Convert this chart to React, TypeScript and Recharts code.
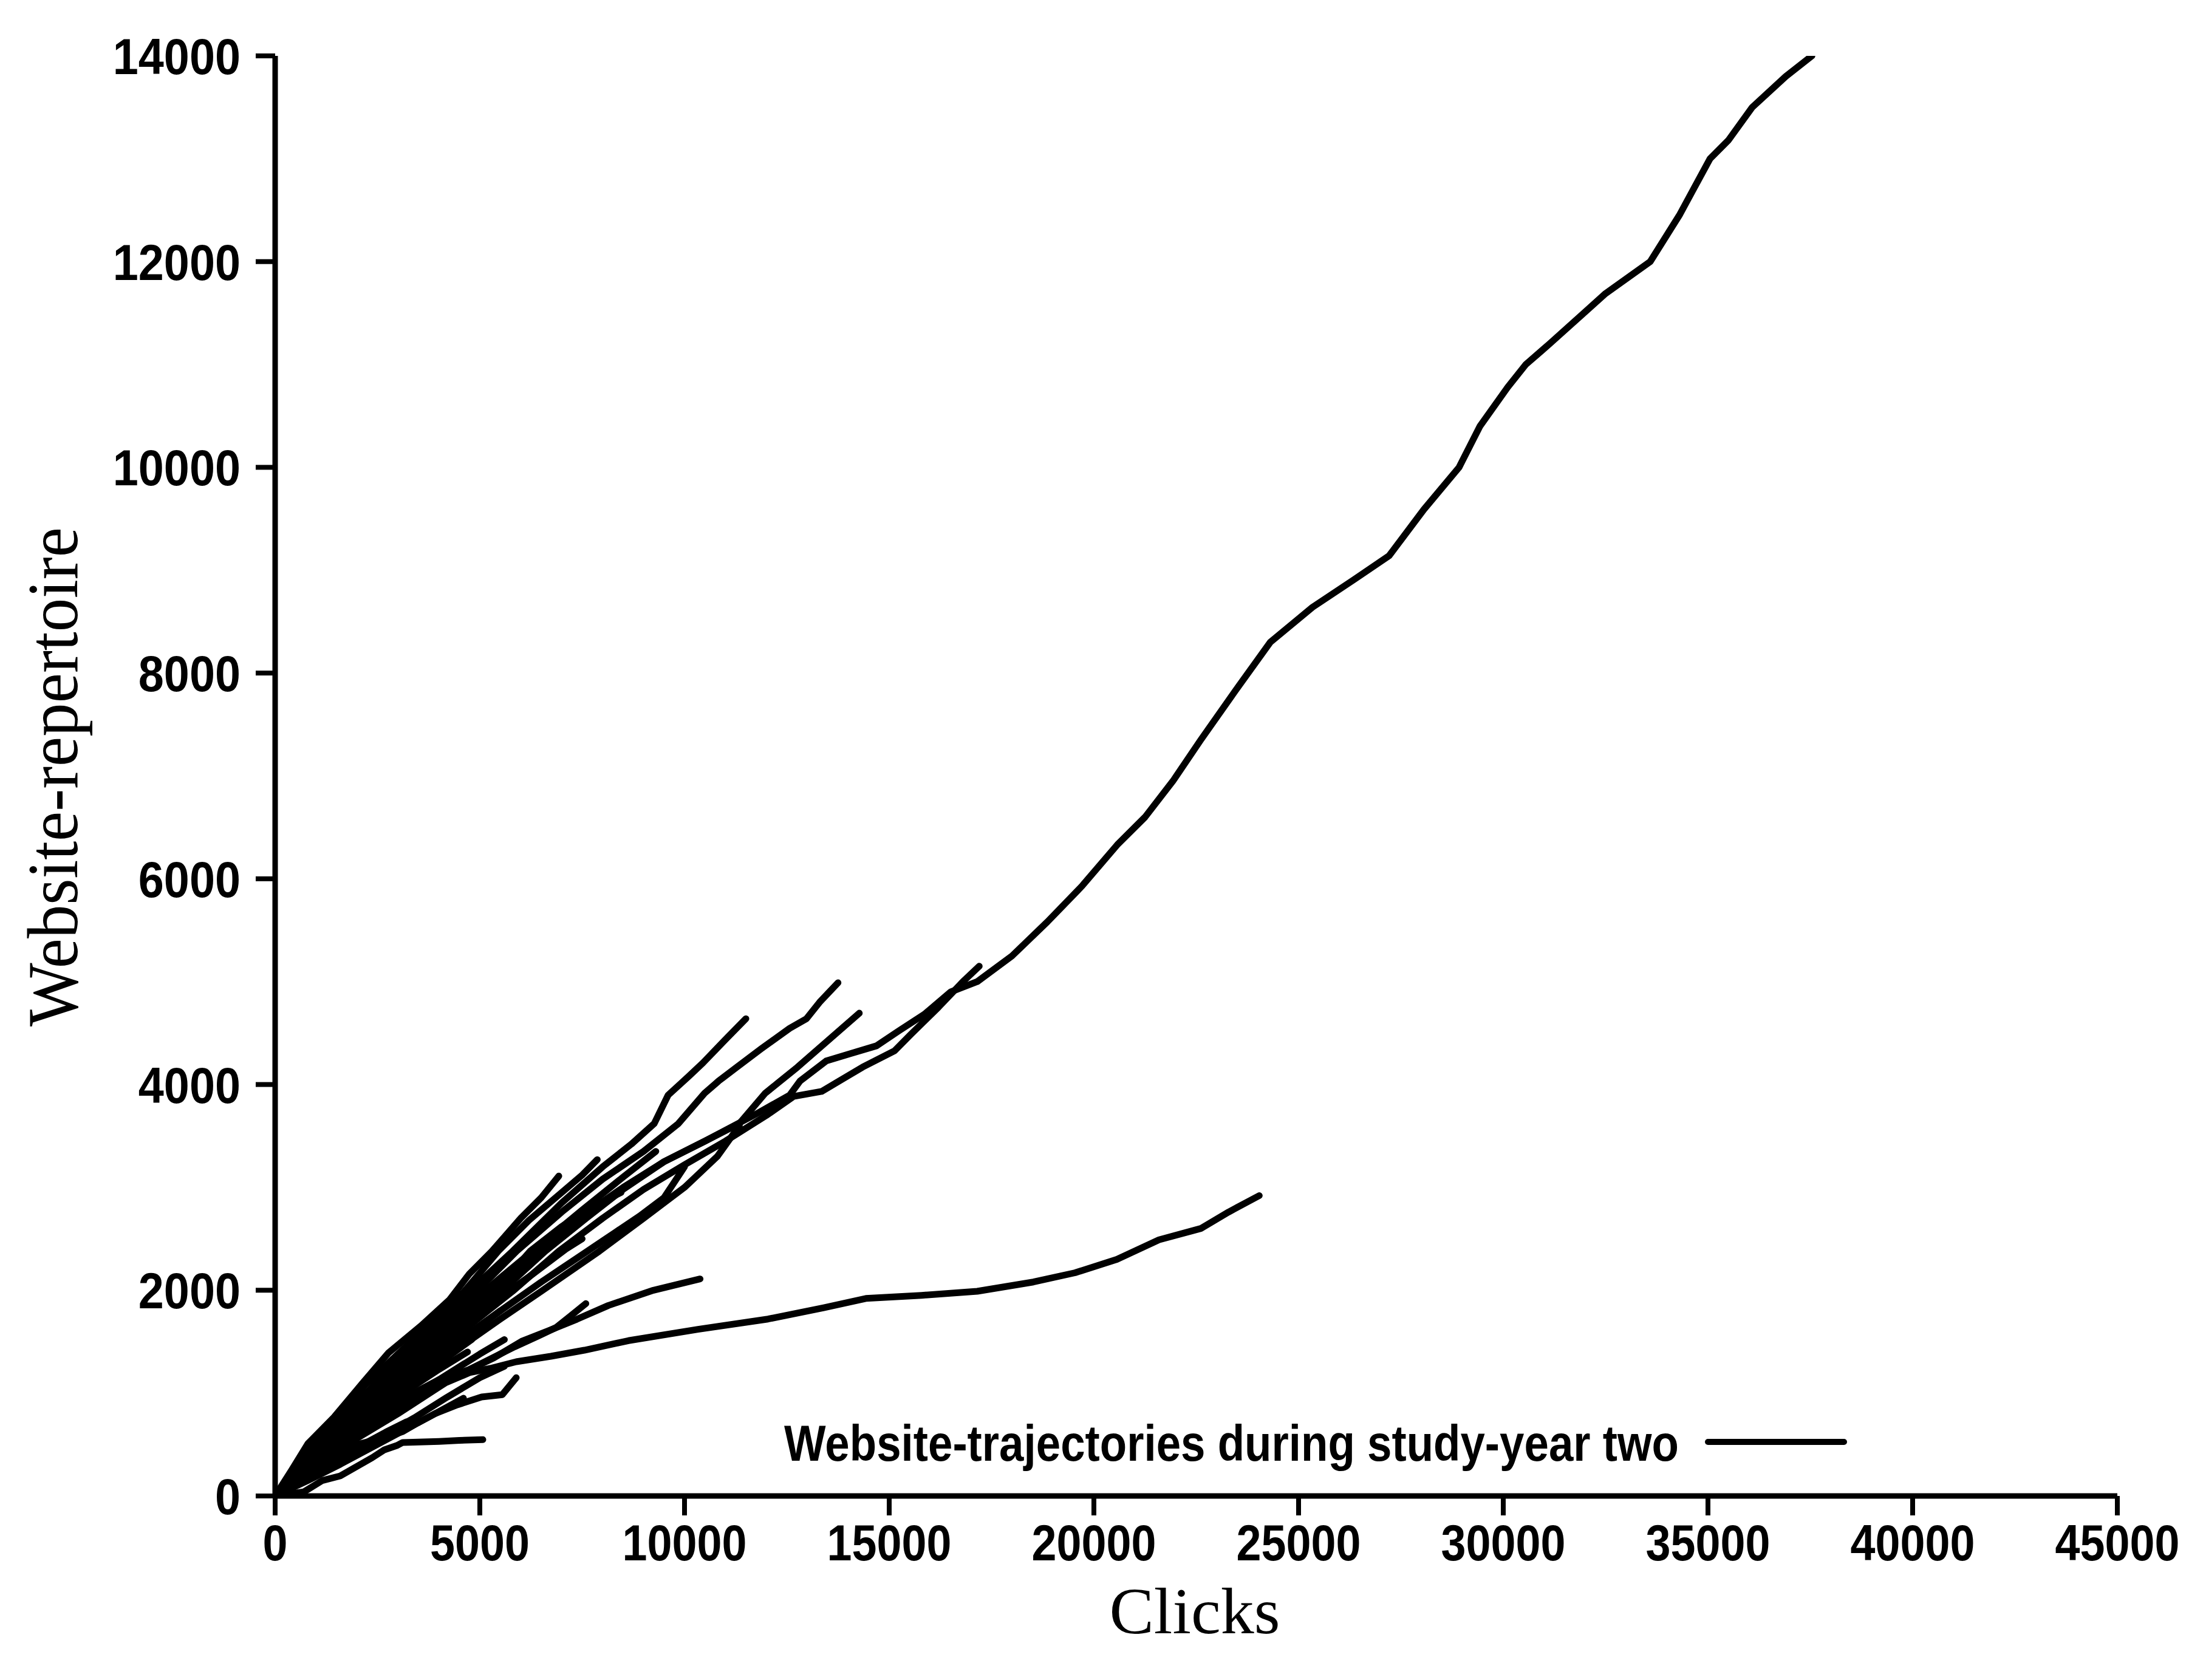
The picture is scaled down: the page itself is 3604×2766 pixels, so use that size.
import React from 'react';
import { LineChart, Line, XAxis, YAxis, Legend } from 'recharts';

// ---------- axis ticks ----------
const clickTicks = [0, 5000, 10000, 15000, 20000, 25000, 30000, 35000, 40000, 45000];
const repertoireTicks = [0, 2000, 4000, 6000, 8000, 10000, 12000, 14000];

// ---------- trajectories: [clicks, website-repertoire] ----------
const trajLong: [number, number][] = [
  [0, 0], [900, 400], [1800, 750], [2700, 1080], [3600, 1380], [4500, 1680], [5500, 2000], [6450, 2380],
  [7500, 2720], [8500, 3000], [9500, 3250], [10500, 3450], [11780, 3720], [12570, 3897], [12820, 4033],
  [13460, 4229], [14050, 4300], [14690, 4376], [15240, 4523], [15860, 4683], [16500, 4900], [17150, 5000],
  [18000, 5250], [18860, 5580], [19710, 5930], [20570, 6330], [21250, 6600], [21930, 6950], [22610, 7350],
  [23460, 7830], [24310, 8300], [25340, 8640], [26360, 8910], [27210, 9140], [28060, 9590], [28920, 10000],
  [29430, 10400], [30110, 10780], [30550, 11000], [31130, 11200], [32500, 11690], [33590, 12000],
  [34300, 12450], [35050, 13000], [35500, 13180], [36080, 13500], [36900, 13800], [37540, 14000],
];
const traj24k: [number, number][] = [
  [0, 0], [1000, 300], [2000, 560], [3000, 800], [4154, 1098], [4748, 1199], [5252, 1240], [5890, 1305],
  [6736, 1358], [7552, 1417], [8630, 1510], [10330, 1620], [12040, 1720], [13400, 1830], [14430, 1920],
  [15790, 1950], [17150, 1990], [18520, 2080], [19540, 2170], [20560, 2300], [21590, 2490], [22610, 2600],
  [23290, 2760], [24040, 2920],
];
const traj10k: [number, number][] = [
  [0, 0], [1000, 340], [2000, 650], [3000, 920], [4000, 1130], [4750, 1230], [5340, 1342], [6020, 1503],
  [6700, 1610], [7370, 1718], [8140, 1852], [9240, 2000], [10380, 2110],
];
const trajSteepShort: [number, number][] = [
  [0, 0], [1000, 320], [2000, 620], [3000, 880], [4000, 1080], [5170, 1315], [5850, 1450], [6440, 1557],
  [6860, 1637], [7200, 1745], [7590, 1870],
];
const traj6k: [number, number][] = [
  [0, 0], [1000, 290], [2000, 500], [2600, 560], [3116, 626], [3472, 708], [3917, 803], [4451, 886],
  [5045, 962], [5549, 985], [5890, 1150],
];
const trajFlat: [number, number][] = [
  [0, 0], [700, 40], [1150, 150], [1590, 195], [2370, 372], [2670, 449], [2970, 490], [3116, 520],
  [4000, 530], [4500, 540], [5074, 548],
];
const traj7a: [number, number][] = [
  [0, 0], [400, 250], [800, 508], [1440, 767], [2137, 1098], [2775, 1394], [3561, 1653], [4258, 1907],
  [4748, 2161], [5297, 2380], [6000, 2700], [6500, 2900], [6930, 3110],
];
const traj8a: [number, number][] = [
  [0, 0], [800, 450], [1500, 760], [2200, 1080], [3000, 1380], [3800, 1680], [4600, 1980], [5450, 2380],
  [6200, 2680], [7000, 2950], [7500, 3120], [7870, 3270],
];
const traj11k: [number, number][] = [
  [0, 0], [900, 440], [1800, 820], [2700, 1200], [3600, 1560], [4500, 1900], [5800, 2380], [7000, 2850],
  [8000, 3200], [8700, 3420], [9260, 3620], [9600, 3897], [10090, 4075], [10450, 4210], [10980, 4429],
  [11500, 4640],
];
const traj13k: [number, number][] = [
  [0, 0], [900, 420], [1800, 790], [2700, 1150], [3600, 1500], [4500, 1820], [5900, 2380], [7000, 2760],
  [8000, 3080], [9000, 3350], [9850, 3620], [10490, 3915], [10830, 4033], [11280, 4169], [11870, 4346],
  [12570, 4547], [12980, 4640], [13300, 4800], [13750, 4990],
];
const traj8b: [number, number][] = [
  [0, 0], [900, 400], [1800, 760], [2700, 1100], [3600, 1420], [4500, 1720], [5500, 2050], [6230, 2380],
  [7000, 2620], [7800, 2820], [8450, 2950],
];
const traj14k: [number, number][] = [
  [0, 0], [900, 380], [1800, 720], [2700, 1050], [3600, 1360], [4500, 1660], [5500, 1980], [6600, 2380],
  [7600, 2700], [8500, 2980], [9500, 3250], [10500, 3450], [11340, 3620], [11970, 3915], [12760, 4169],
  [13560, 4447], [14270, 4694],
];
const traj17k: [number, number][] = [
  [0, 0], [900, 370], [1800, 700], [2700, 1010], [3600, 1300], [4500, 1580], [5800, 1990], [6930, 2380],
  [8000, 2700], [9000, 2980], [10000, 3220], [11000, 3450], [12000, 3700], [12670, 3885], [13350, 3933],
  [14350, 4169], [15130, 4328], [15530, 4488], [16200, 4750], [16800, 5000], [17200, 5150],
];
const traj9k: [number, number][] = [
  [0, 0], [900, 360], [1800, 680], [2700, 970], [3600, 1240], [4500, 1500], [5500, 1800], [6500, 2080],
  [7630, 2380], [8300, 2560], [8900, 2720], [9500, 2900], [10000, 3200],
];
const traj12k: [number, number][] = [
  [0, 0], [900, 340], [1800, 640], [2700, 920], [3600, 1180], [4500, 1440], [5500, 1720], [6500, 1990],
  [7920, 2380], [9000, 2700], [10000, 3000], [10800, 3300], [11340, 3600],
];
const traj6a: [number, number][] = [
  [0, 0], [700, 300], [1500, 620], [2300, 920], [3000, 1180], [3800, 1450], [4500, 1700], [5200, 1950],
  [5800, 2150],
];
const traj4a: [number, number][] = [
  [0, 0], [700, 260], [1500, 560], [2300, 840], [3000, 1060], [3800, 1300], [4500, 1520],
];
const traj3a: [number, number][] = [
  [0, 0], [600, 280], [1200, 560], [1800, 820], [2400, 1060], [3000, 1280], [3600, 1500],
];
const traj4b: [number, number][] = [
  [0, 0], [600, 220], [1200, 440], [1800, 640], [2400, 830], [3000, 1000], [3700, 1180], [4300, 1320],
];
const traj3b: [number, number][] = [
  [0, 0], [500, 200], [1000, 380], [1600, 580], [2200, 760], [2800, 900], [3400, 1000],
];
const traj6b: [number, number][] = [
  [0, 0], [800, 380], [1600, 700], [2400, 1000], [3200, 1300], [4000, 1580], [4800, 1850], [5600, 2100],
  [6300, 2320],
];
const traj5b: [number, number][] = [
  [0, 0], [800, 330], [1600, 620], [2400, 890], [3200, 1140], [4000, 1380], [4800, 1600], [5500, 1800],
];
const traj2a: [number, number][] = [
  [0, 0], [700, 330], [1400, 640], [2100, 930], [2800, 1200],
];
const traj2b: [number, number][] = [
  [0, 0], [600, 200], [1200, 400], [1800, 580], [2400, 740], [2900, 880],
];
const traj4c: [number, number][] = [
  [0, 0], [700, 240], [1400, 460], [2100, 660], [2800, 840], [3500, 1000], [4100, 1120],
];
const traj7c: [number, number][] = [
  [0, 0], [900, 390], [1800, 740], [2700, 1060], [3600, 1350], [4500, 1630], [5400, 1900], [6300, 2160],
  [7100, 2400], [7500, 2500],
];
const traj9c: [number, number][] = [
  [0, 0], [900, 410], [1800, 780], [2700, 1130], [3600, 1460], [4500, 1780], [5500, 2120], [6500, 2450],
  [7500, 2780], [8500, 3100], [9300, 3350],
];
const trajLowA: [number, number][] = [
  [0, 0], [800, 150], [1600, 310], [2400, 480], [3200, 650], [4000, 820], [4600, 950],
];
const trajLowB: [number, number][] = [
  [0, 0], [900, 230], [1800, 420], [2600, 580], [3400, 760], [4200, 960], [5000, 1150], [5600, 1260],
];
const trajLowC: [number, number][] = [
  [0, 0], [600, 160], [1300, 330], [2000, 470], [2700, 620], [3200, 720],
];
const trajMidA: [number, number][] = [
  [0, 0], [1000, 420], [2000, 800], [3000, 1150], [4000, 1480], [5000, 1800], [5800, 2050],
];
const trajMidB: [number, number][] = [
  [0, 0], [1000, 360], [2000, 690], [3000, 1000], [4000, 1290], [4800, 1520],
];
const trajMidC: [number, number][] = [
  [0, 0], [1000, 470], [2000, 900], [3000, 1300], [3800, 1600],
];
const trajMidD: [number, number][] = [
  [0, 0], [1000, 310], [2000, 600], [3000, 870], [4000, 1130], [5000, 1380], [5600, 1520],
];
const trajMidE: [number, number][] = [
  [0, 0], [800, 300], [1600, 560], [2400, 800], [3200, 1020], [4000, 1230], [4700, 1400],
];

const trajectories = [
  trajLong, traj24k, traj10k, trajSteepShort, traj6k, trajFlat, traj7a, traj8a, traj11k, traj13k,
  traj8b, traj14k, traj17k, traj9k, traj12k, traj6a, traj4a, traj3a, traj4b, traj3b,
  traj6b, traj5b, traj2a, traj2b, traj4c, traj7c, traj9c,
  trajLowA, trajLowB, trajLowC, trajMidA, trajMidB, trajMidC, trajMidD, trajMidE,
].map((t) => t.map(([x, y]) => ({ x, y })));

const legendText = 'Website-trajectories during study-year two';
const xTitle = 'Clicks';
const yTitle = 'Website-repertoire';

const SANS = "'Liberation Sans', Arial, Helvetica, sans-serif";
const SERIF = "'Liberation Serif', 'Times New Roman', Times, serif";

const XTick = (props: any) => {
  const { x, y, payload } = props;
  const label = String(payload.value);
  return (
    <g transform={`translate(${x},${y + 74}) scale(0.878,1)`}>
      <text x={0} y={0} textAnchor="middle" fontFamily={SANS} fontSize={84} fontWeight={700} fill="#000">
        {label}
      </text>
    </g>
  );
};

const YTick = (props: any) => {
  const { x, y, payload } = props;
  const label = String(payload.value);
  return (
    <g transform={`translate(${x - 25},${y + 30}) scale(0.9,1)`}>
      <text x={0} y={0} textAnchor="end" fontFamily={SANS} fontSize={84} fontWeight={700} fill="#000">
        {label}
      </text>
    </g>
  );
};

const renderXLabel = () => (
  <text
    x={1967}
    y={2689}
    textAnchor="middle"
    fontFamily={SERIF}
    fontSize={108}
    fill="#000"
    textLength={281}
    lengthAdjust="spacingAndGlyphs"
  >
    {xTitle}
  </text>
);

const renderYLabel = () => (
  <text
    x={127}
    y={1279}
    transform="rotate(-90 127 1279)"
    textAnchor="middle"
    fontFamily={SERIF}
    fontSize={118}
    fill="#000"
    textLength={822}
    lengthAdjust="spacingAndGlyphs"
  >
    {yTitle}
  </text>
);

const LegendContent = () => (
  <svg width={1800} height={130} style={{ overflow: 'visible', display: 'block' }}>
    <text
      x={11}
      y={85}
      fontFamily={SANS}
      fontSize={84}
      fontWeight={700}
      fill="#000"
      textLength={1473}
      lengthAdjust="spacingAndGlyphs"
    >
      {legendText}
    </text>
    <line x1={1532} y1={54} x2={1756} y2={54} stroke="#000" strokeWidth={10} strokeLinecap="round" />
  </svg>
);

export default function App() {
  return (
    <div style={{ position: 'absolute', left: 0, top: 0, width: 3604, height: 2766, background: '#fff' }}>
      <LineChart width={3604} height={2766} margin={{ top: 92, right: 118, bottom: 203, left: 353 }}>
        <XAxis
          type="number"
          dataKey="x"
          domain={[0, 45000]}
          ticks={clickTicks}
          interval={0}
          height={100}
          tickSize={32}
          tickMargin={0}
          axisLine={{ stroke: '#000', strokeWidth: 9 }}
          tickLine={{ stroke: '#000', strokeWidth: 8 }}
          tick={<XTick />}
          label={renderXLabel}
          allowDataOverflow
        />
        <YAxis
          type="number"
          dataKey="y"
          domain={[0, 14000]}
          ticks={repertoireTicks}
          interval={0}
          width={100}
          tickSize={32}
          tickMargin={0}
          axisLine={{ stroke: '#000', strokeWidth: 9 }}
          tickLine={{ stroke: '#000', strokeWidth: 8 }}
          tick={<YTick />}
          label={renderYLabel}
          allowDataOverflow
        />
        <Legend
          verticalAlign="middle"
          align="center"
          layout="horizontal"
          content={<LegendContent />}
          wrapperStyle={{ left: 1280, top: 2320, width: 1800, height: 130 }}
        />
        {trajectories.map((d, i) => (
          <Line
            key={`traj-${i}`}
            name={`traj-${i}`}
            data={d}
            dataKey="y"
            type="linear"
            stroke="#000"
            strokeWidth={11}
            strokeLinecap="round"
            strokeLinejoin="round"
            dot={false}
            activeDot={false}
            isAnimationActive={false}
            legendType="none"
          />
        ))}
      </LineChart>
    </div>
  );
}
